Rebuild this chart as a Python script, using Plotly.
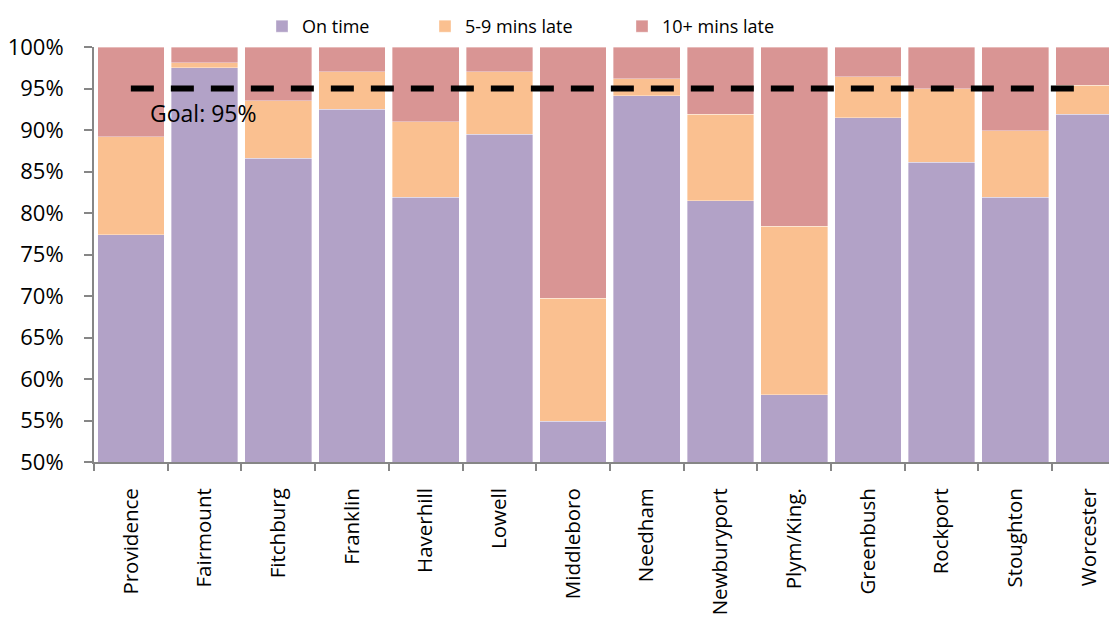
import plotly.graph_objects as go

categories = ["Providence", "Fairmount", "Fitchburg", "Franklin", "Haverhill", "Lowell",
              "Middleboro", "Needham", "Newburyport", "Plym/King.", "Greenbush", "Rockport",
              "Stoughton", "Worcester"]
on_time = [77.4, 97.5, 86.6, 92.5, 81.9, 89.5, 54.9, 94.1, 81.5, 58.1, 91.5, 86.1, 81.9, 91.9]
late_5_9 = [11.8, 0.6, 6.9, 4.5, 9.1, 7.5, 14.8, 2.1, 10.4, 20.3, 4.9, 8.9, 8.0, 3.5]
late_10 = [round(100 - a - b, 1) for a, b in zip(on_time, late_5_9)]
series_names = ["On time", "5-9 mins late", "10+ mins late"]
goal = 95
yticks = [50, 55, 60, 65, 70, 75, 80, 85, 90, 95, 100]

FONT = "Open Sans"
OFF = 8  # page body margin
W, H = 1117 - OFF, 618 - OFF
L, T = 94 - OFF, 47 - OFF
B = H - (462 - OFF)
PW, PH = W - L, H - T - B


def px_x(p):
    return (p - OFF - L) / PW


def px_y(p):
    return 1 + (T - (p - OFF)) / PH


fig = go.Figure()
colors = ["#B2A2C7", "#FAC090", "#D99594"]
legends = ["legend", "legend2", "legend3"]
for name, vals, col, lg in zip(series_names, [on_time, late_5_9, late_10], colors, legends):
    fig.add_trace(go.Bar(x=categories, y=vals, name=name, marker_color=col, legend=lg,
                         marker_line_color="rgba(255,255,255,0.6)", marker_line_width=0.6))

fig.add_trace(go.Scatter(x=categories, y=[goal] * len(categories), mode="lines",
                         line=dict(color="black", width=6, dash="23px,17px"),
                         showlegend=False, hoverinfo="skip"))

fig.add_annotation(x=0, y=92.05, xref="x", yref="y", text="Goal: 95%", showarrow=False,
                   xanchor="left", xshift=17, font=dict(family=FONT, size=23, color="black"))

leg_common = dict(orientation="v", xanchor="left", yanchor="top", itemwidth=30,
                  font=dict(family=FONT, size=18, color="black"), bgcolor="rgba(0,0,0,0)")

fig.update_layout(
    width=W, height=H, barmode="stack", bargap=0.095,
    plot_bgcolor="white", paper_bgcolor="white",
    margin=dict(l=L, r=0, t=T, b=B, autoexpand=False),
    font=dict(family=FONT, size=18, color="black"),
    legend=dict(x=px_x(262), y=px_y(OFF), **leg_common),
    legend2=dict(x=px_x(425), y=px_y(OFF), **leg_common),
    legend3=dict(x=px_x(622), y=px_y(OFF), **leg_common),
    yaxis=dict(range=[50, 100], tickvals=yticks, ticktext=[f"{v}%" for v in yticks],
               showgrid=False, showline=True, linecolor="#868686", linewidth=2,
               ticks="outside", ticklen=8, tickcolor="#868686", tickwidth=1.5,
               tickfont=dict(size=22), ticklabelstandoff=16, zeroline=False, automargin=False),
    xaxis=dict(range=[-0.5, 13.38], showline=True, linecolor="#868686", linewidth=2,
               ticks="outside", ticklen=7, tickcolor="#868686", tickwidth=1.5,
               tickson="boundaries", tickangle=-90, tickfont=dict(size=20.5),
               ticklabelstandoff=16, showgrid=False, automargin=False),
)
fig.write_html("out.html")
